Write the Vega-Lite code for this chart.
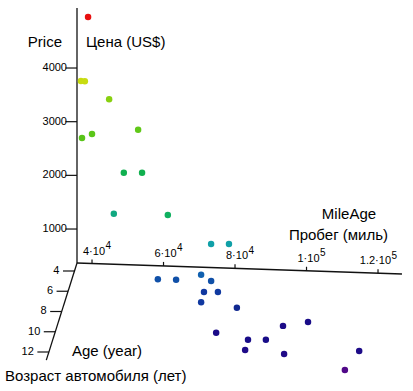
{
  "$schema": "https://vega.github.io/schema/vega-lite/v6.json",
  "width": 413,
  "height": 391,
  "padding": 0,
  "autosize": "none",
  "background": "white",
  "config": {"view": {"stroke": null}, "font": "Liberation Sans"},
  "data": {"values": [
    {"kind": "axis", "axis": "price", "mileage": 35800, "age": 3.21, "price": 367},
    {"kind": "axis", "axis": "price", "mileage": 35800, "age": 3.21, "price": 5118},
    {"kind": "axis", "axis": "mileage", "mileage": 35800, "age": 3.21, "price": 367},
    {"kind": "axis", "axis": "mileage", "mileage": 126700, "age": 3.21, "price": 367},
    {"kind": "axis", "axis": "age", "mileage": 35800, "age": 3.21, "price": 367},
    {"kind": "axis", "axis": "age", "mileage": 35800, "age": 12.8, "price": 367},

    {"kind": "tick", "axis": "price", "mileage": 35800, "age": 3.21, "price": 1000, "label": "1000"},
    {"kind": "tick", "axis": "price", "mileage": 35800, "age": 3.21, "price": 2000, "label": "2000"},
    {"kind": "tick", "axis": "price", "mileage": 35800, "age": 3.21, "price": 3000, "label": "3000"},
    {"kind": "tick", "axis": "price", "mileage": 35800, "age": 3.21, "price": 4000, "label": "4000"},
    {"kind": "tick", "axis": "age", "mileage": 35800, "age": 4, "price": 367, "label": "4"},
    {"kind": "tick", "axis": "age", "mileage": 35800, "age": 6, "price": 367, "label": "6"},
    {"kind": "tick", "axis": "age", "mileage": 35800, "age": 8, "price": 367, "label": "8"},
    {"kind": "tick", "axis": "age", "mileage": 35800, "age": 10, "price": 367, "label": "10"},
    {"kind": "tick", "axis": "age", "mileage": 35800, "age": 12, "price": 367, "label": "12"},
    {"kind": "tick", "axis": "mileage", "mileage": 40000, "age": 3.21, "price": 367, "label": "4·10", "exp": "4"},
    {"kind": "tick", "axis": "mileage", "mileage": 60000, "age": 3.21, "price": 367, "label": "6·10", "exp": "4"},
    {"kind": "tick", "axis": "mileage", "mileage": 80000, "age": 3.21, "price": 367, "label": "8·10", "exp": "4"},
    {"kind": "tick", "axis": "mileage", "mileage": 100000, "age": 3.21, "price": 367, "label": "1·10", "exp": "5"},
    {"kind": "tick", "axis": "mileage", "mileage": 120000, "age": 3.21, "price": 367, "label": "1.2·10", "exp": "5"},

    {"kind": "title", "role": "priceEn", "text": "Price", "mileage": 35800, "age": 3.21, "price": 5118},
    {"kind": "title", "role": "priceRu", "text": "Цена (US$)", "mileage": 35800, "age": 3.21, "price": 5118},
    {"kind": "title", "role": "mileEn", "text": "MileAge", "mileage": 126700, "age": 3.21, "price": 367},
    {"kind": "title", "role": "mileRu", "text": "Пробег (миль)", "mileage": 126700, "age": 3.21, "price": 367},
    {"kind": "title", "role": "ageEn", "text": "Age (year)", "mileage": 35800, "age": 12.8, "price": 367},
    {"kind": "title", "role": "ageRu", "text": "Возраст автомобиля (лет)", "mileage": 35800, "age": 12.8, "price": 367},

    {"kind": "point", "mileage": 39600, "age": 4, "price": 5110},
    {"kind": "point", "mileage": 37600, "age": 4, "price": 3910},
    {"kind": "point", "mileage": 38700, "age": 4, "price": 3910},
    {"kind": "point", "mileage": 45500, "age": 4, "price": 3590},
    {"kind": "point", "mileage": 41600, "age": 5, "price": 3120},
    {"kind": "point", "mileage": 38800, "age": 5, "price": 3040},
    {"kind": "point", "mileage": 54500, "age": 5, "price": 3230},
    {"kind": "point", "mileage": 50500, "age": 5, "price": 2420},
    {"kind": "point", "mileage": 55600, "age": 5, "price": 2430},
    {"kind": "point", "mileage": 48600, "age": 6, "price": 1840},
    {"kind": "point", "mileage": 64600, "age": 7, "price": 2040},
    {"kind": "point", "mileage": 76700, "age": 7, "price": 1530},
    {"kind": "point", "mileage": 81700, "age": 7, "price": 1540},
    {"kind": "point", "mileage": 63600, "age": 9, "price": 1220},
    {"kind": "point", "mileage": 68700, "age": 9, "price": 1220},
    {"kind": "point", "mileage": 75700, "age": 9, "price": 1330},
    {"kind": "point", "mileage": 78500, "age": 9, "price": 1220},
    {"kind": "point", "mileage": 76500, "age": 9, "price": 1010},
    {"kind": "point", "mileage": 80400, "age": 9, "price": 1020},
    {"kind": "point", "mileage": 76600, "age": 10, "price": 1010},
    {"kind": "point", "mileage": 86600, "age": 10, "price": 930},
    {"kind": "point", "mileage": 81700, "age": 11, "price": 640},
    {"kind": "point", "mileage": 91500, "age": 12, "price": 720},
    {"kind": "point", "mileage": 96500, "age": 12, "price": 730},
    {"kind": "point", "mileage": 90700, "age": 12, "price": 530},
    {"kind": "point", "mileage": 99500, "age": 10, "price": 620},
    {"kind": "point", "mileage": 106500, "age": 10, "price": 710},
    {"kind": "point", "mileage": 101600, "age": 12, "price": 480},
    {"kind": "point", "mileage": 122600, "age": 12, "price": 580},
    {"kind": "point", "mileage": 118600, "age": 12, "price": 220}
  ]},
  "transform": [
    {"calculate": "77 + (datum.mileage - 35800) * 0.003575 - (datum.age - 3.21) * 3.2", "as": "sx"},
    {"calculate": "263 + (datum.mileage - 35800) * 0.000121 + (datum.age - 3.21) * 10.125 - (datum.price - 367) * 0.05367", "as": "sy"}
  ],
  "encoding": {
    "x": {"field": "sx", "type": "quantitative", "scale": {"domain": [0, 413], "nice": false, "zero": false}, "axis": null},
    "y": {"field": "sy", "type": "quantitative", "scale": {"domain": [0, 391], "nice": false, "zero": false, "reverse": true}, "axis": null}
  },
  "layer": [
    {
      "transform": [{"filter": "datum.kind == 'axis'"}],
      "mark": {"type": "line", "color": "#111111", "strokeWidth": 1.3},
      "encoding": {"detail": {"field": "axis"}}
    },
    {
      "transform": [{"filter": "datum.kind == 'tick' && datum.axis != 'mileage'"}],
      "mark": {"type": "rule", "color": "#111111", "strokeWidth": 1.2, "x2Offset": -11.5},
      "encoding": {"x2": {"field": "sx"}, "y2": {"field": "sy"}}
    },
    {
      "transform": [{"filter": "datum.kind == 'tick' && datum.axis == 'mileage'"}],
      "mark": {"type": "rule", "color": "#111111", "strokeWidth": 1.2, "y2Offset": -4},
      "encoding": {"x2": {"field": "sx"}, "y2": {"field": "sy"}}
    },
    {
      "transform": [{"filter": "datum.kind == 'tick' && datum.axis == 'price'"}],
      "mark": {"type": "text", "align": "right", "baseline": "middle", "dx": -10, "fontSize": 11, "color": "#000000"},
      "encoding": {"text": {"field": "label"}}
    },
    {
      "transform": [{"filter": "datum.kind == 'tick' && datum.axis == 'age'"}],
      "mark": {"type": "text", "align": "right", "baseline": "middle", "dx": -15, "fontSize": 11, "color": "#000000"},
      "encoding": {"text": {"field": "label"}}
    },
    {
      "transform": [{"filter": "datum.kind == 'tick' && datum.axis == 'mileage'"}],
      "mark": {"type": "text", "align": "right", "baseline": "middle", "dx": 13, "dy": -12, "fontSize": 11, "color": "#000000"},
      "encoding": {"text": {"field": "label"}}
    },
    {
      "transform": [{"filter": "datum.kind == 'tick' && datum.axis == 'mileage'"}],
      "mark": {"type": "text", "align": "left", "baseline": "middle", "dx": 13.5, "dy": -17.5, "fontSize": 10, "color": "#000000"},
      "encoding": {"text": {"field": "exp"}}
    },
    {
      "transform": [{"filter": "datum.kind == 'point'"}],
      "mark": {"type": "circle", "size": 42, "opacity": 1},
      "encoding": {
        "color": {
          "field": "price", "type": "quantitative", "legend": null,
          "scale": {
            "domain": [220, 480, 730, 930, 1010, 1220, 1330, 1530, 1840, 2040, 2420, 3040, 3230, 3590, 3910, 5110],
            "range": ["#500888", "#200a88", "#180c88", "#102890", "#1038a0", "#1050a8", "#1060b0", "#10a0a8", "#10a880", "#10b060", "#10b050", "#58c418", "#60c818", "#88d010", "#c8dc10", "#e81010"],
            "interpolate": "rgb"
          }
        }
      }
    },
    {
      "transform": [{"filter": "datum.role == 'priceEn'"}],
      "mark": {"type": "text", "align": "right", "baseline": "middle", "dx": -15, "dy": 34, "fontSize": 15, "color": "#000000"},
      "encoding": {"text": {"field": "text"}}
    },
    {
      "transform": [{"filter": "datum.role == 'priceRu'"}],
      "mark": {"type": "text", "align": "left", "baseline": "middle", "dx": 9, "dy": 34, "fontSize": 15, "color": "#000000"},
      "encoding": {"text": {"field": "text"}}
    },
    {
      "transform": [{"filter": "datum.role == 'mileEn'"}],
      "mark": {"type": "text", "align": "center", "baseline": "middle", "dx": -53, "dy": -60, "fontSize": 15, "color": "#000000"},
      "encoding": {"text": {"field": "text"}}
    },
    {
      "transform": [{"filter": "datum.role == 'mileRu'"}],
      "mark": {"type": "text", "align": "center", "baseline": "middle", "dx": -63.5, "dy": -39, "fontSize": 15, "color": "#000000"},
      "encoding": {"text": {"field": "text"}}
    },
    {
      "transform": [{"filter": "datum.role == 'ageEn'"}],
      "mark": {"type": "text", "align": "left", "baseline": "middle", "dx": 25.7, "dy": -9, "fontSize": 15, "color": "#000000"},
      "encoding": {"text": {"field": "text"}}
    },
    {
      "transform": [{"filter": "datum.role == 'ageRu'"}],
      "mark": {"type": "text", "align": "left", "baseline": "middle", "dx": -41.3, "dy": 16, "fontSize": 15, "color": "#000000"},
      "encoding": {"text": {"field": "text"}}
    }
  ]
}
